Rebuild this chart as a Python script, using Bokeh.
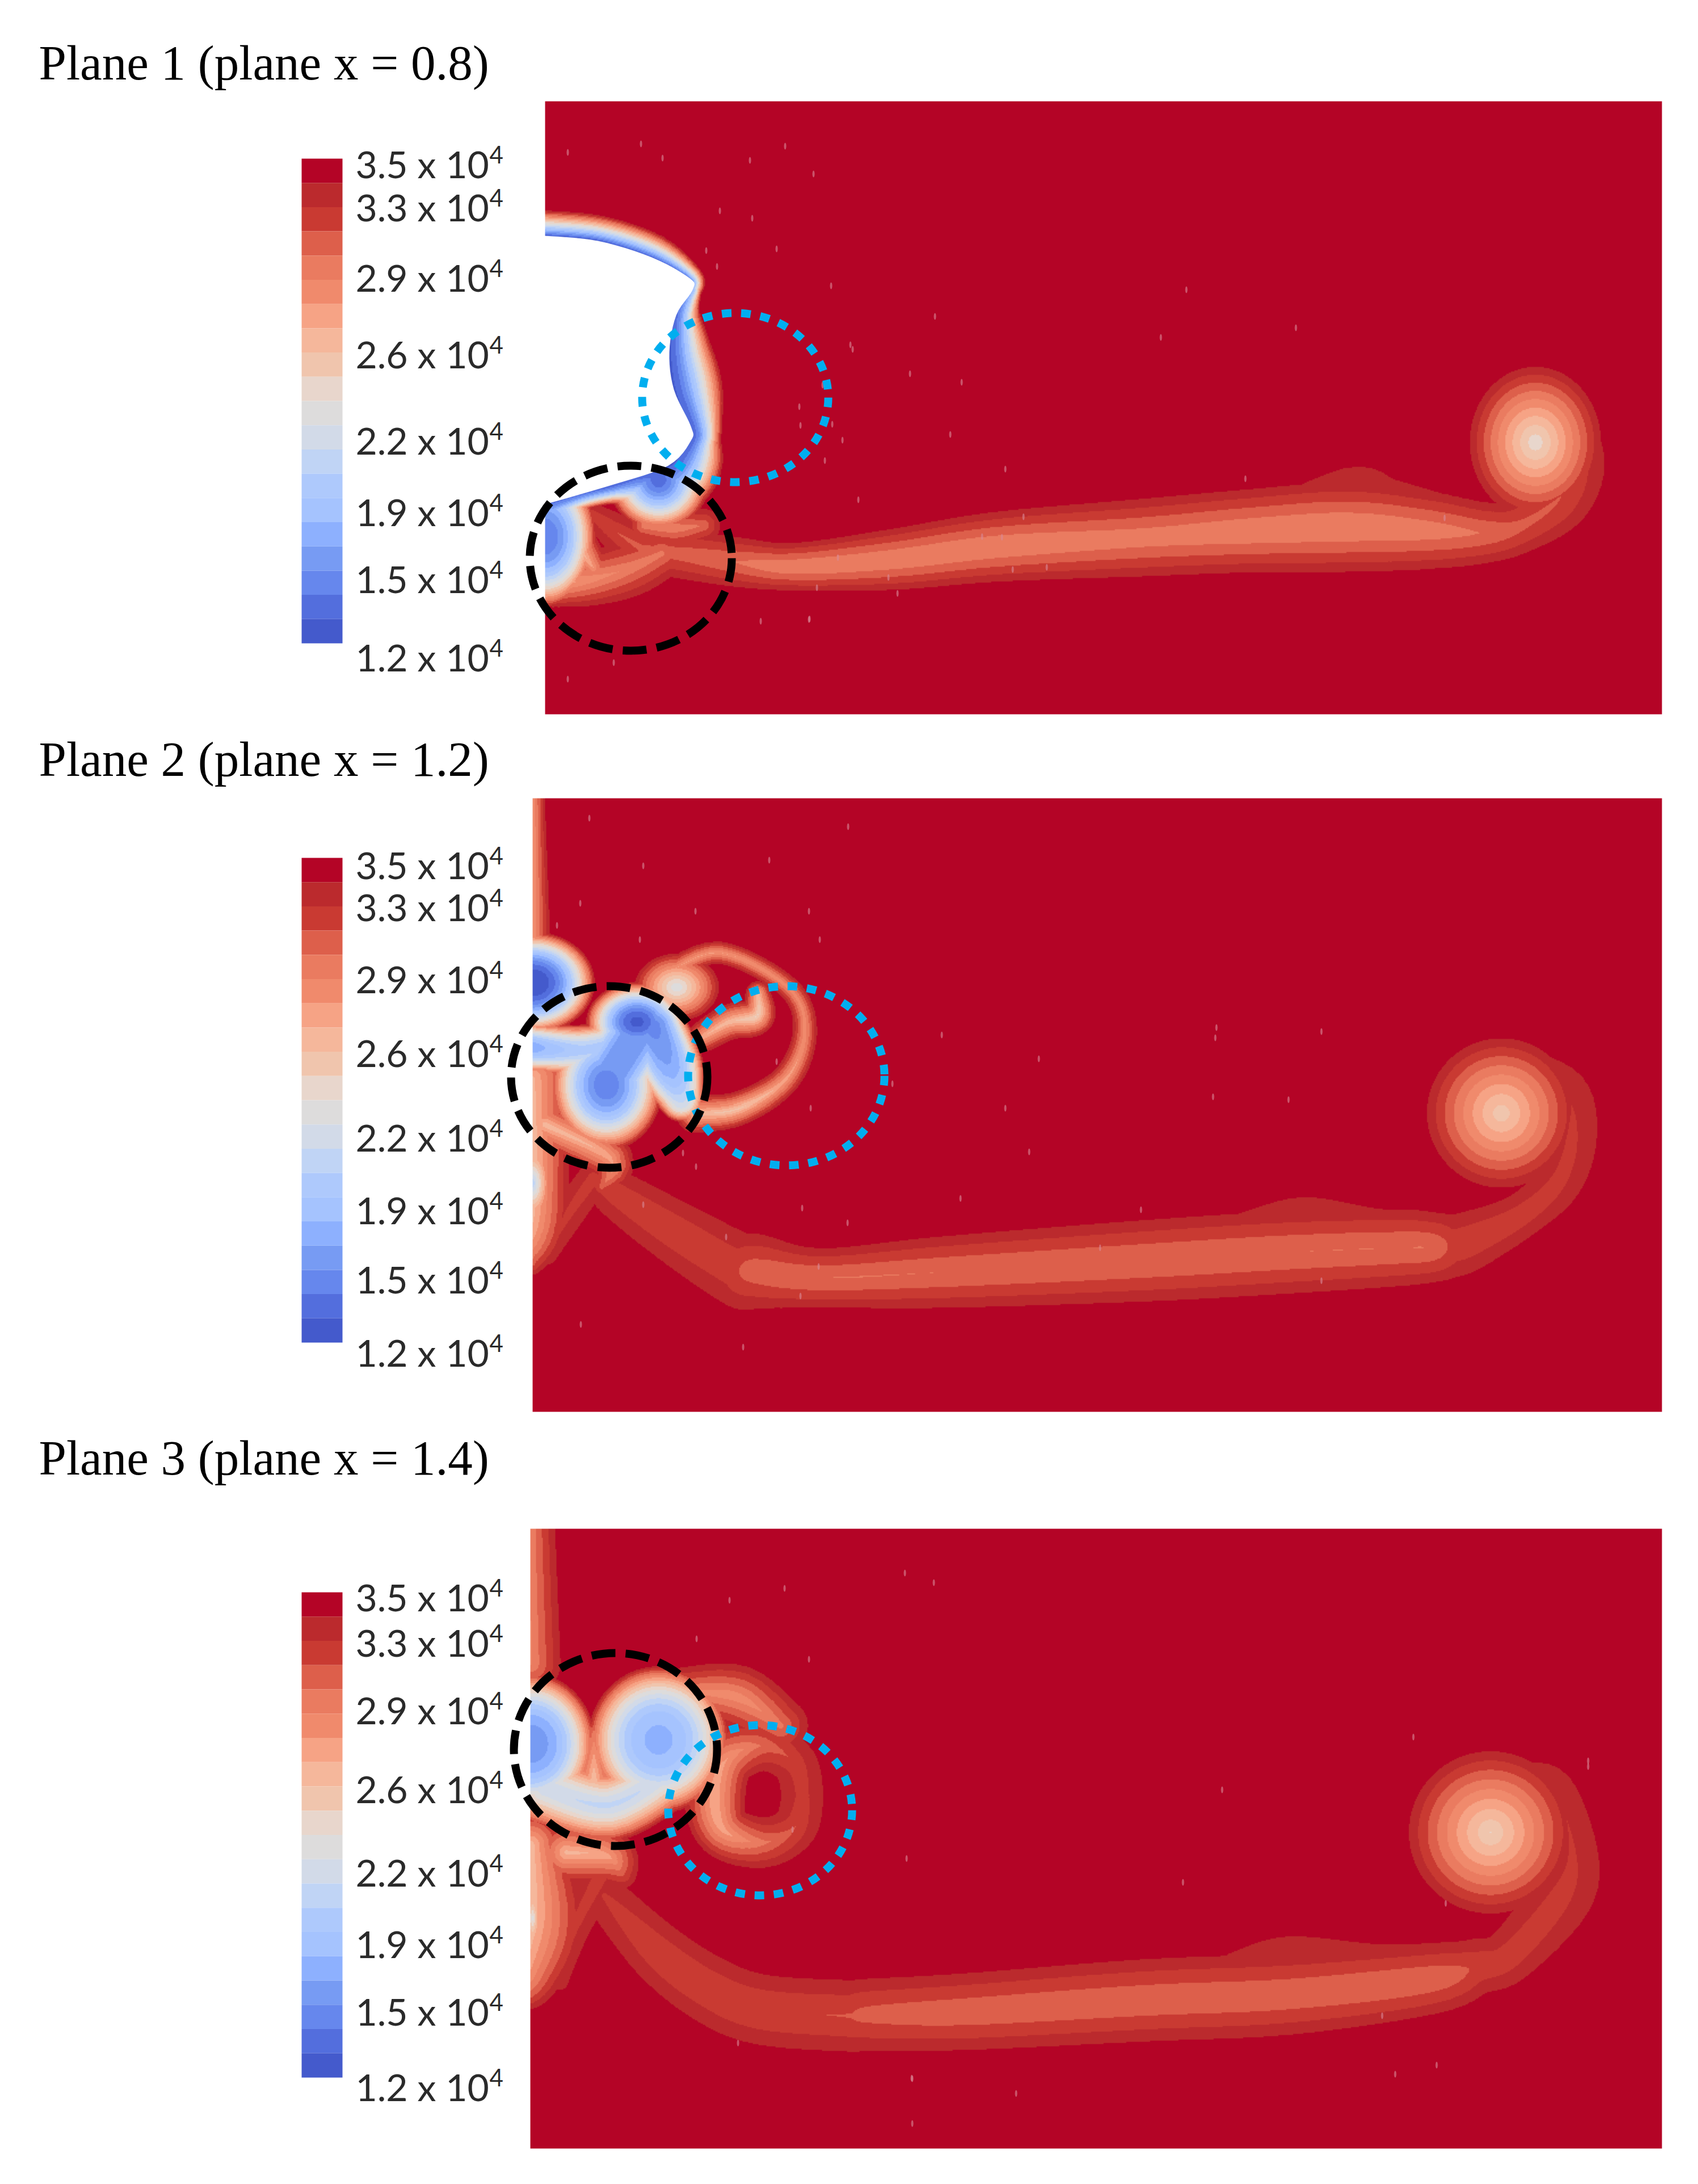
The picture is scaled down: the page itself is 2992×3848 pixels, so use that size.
import numpy as np

from bokeh.core.properties import value
from bokeh.embed import file_html
from bokeh.models import LinearColorMapper, Range1d
from bokeh.plotting import figure
from bokeh.resources import INLINE

#- colour levels of the bar, top to bottom
bar_colors = ["#b40426", "#bb2a2d", "#c93a32", "#dd5f4b", "#ea7b60", "#f08a6c", "#f6a385",
              "#f5b79b", "#f0c5ad", "#e8d6cc", "#dddcdc", "#d2dae8", "#c0d4f5", "#aec9fc",
              "#a5c3fe", "#8db0fe", "#779bf3", "#6687ed", "#536edd", "#445acc"]
bar_labels = ["3.5", "3.3", "2.9", "2.6", "2.2", "1.9", "1.5", "1.2"]

titles = ["Plane 1 (plane x = 0.8)", "Plane 2 (plane x = 1.2)", "Plane 3 (plane x = 1.4)"]
title_y = [110, 1337, 2568]

#- panel boxes: left, top, right, bottom
boxes = [(960, 178, 2928, 1258), (938, 1406, 2928, 2487), (934, 2693, 2928, 3785)]
bar_tops = [279, 1511, 2805]
bar_bottoms = [1133, 2365, 3660]
p1_label_y = [288, 364, 488, 623, 775, 901, 1019, 1157]
p2_label_y = [1523, 1597, 1724, 1854, 2003, 2131, 2253, 2382]
p3_label_y = [2813, 2893, 3012, 3151, 3298, 3424, 3543, 3676]

#- marked circles: centre x, centre y, half width, half height
black_circles = [(1111, 983, 178, 163), (1073, 1897, 173, 160), (1084, 3082, 179, 170)]
blue_circles = [(1295, 700, 164, 149), (1385, 1895, 173, 158), (1339, 3189, 162, 150)]

#- field features: ridge nodes are (x, y, half width, centre value)
p1_wake = [(1139, 971, 40, 31000), (1196, 975, 45, 31000),
           (1300, 990, 45, 30300), (1400, 998, 43, 29400), (1575, 985, 55, 29300), (1755, 963, 63, 29300),
           (2009, 947, 70, 29700), (2200, 935, 75, 29400), (2375, 928, 81, 29300), (2517, 934, 70, 29700),
           (2618, 938, 55, 30500), (2680, 925, 50, 31200), (2745, 880, 58, 31500), (2775, 820, 55, 32000),
           (2770, 760, 40, 32500), (2730, 700, 15, 33000)]
p1_finger = [(1043, 906, 22, 32000), (1090, 940, 35, 31500), (1139, 971, 40, 31000)]
p1_hump = [(2200, 915, 20, 33300), (2375, 865, 48, 33000), (2450, 878, 42, 33200), (2560, 900, 30, 33300),
           (2610, 905, 15, 33500)]
p1_top_layer = [(960, 415, 45, 13000), (1053, 424, 45, 13000), (1148, 453, 42, 13500), (1215, 490, 24, 15000),
                (1220, 510, 16, 18000)]
p1_side_layer = [(1220, 510, 16, 18000), (1191, 555, 42, 14000), (1179, 620, 74, 13000), (1187, 686, 86, 13000),
                 (1217, 751, 55, 13500), (1217, 776, 52, 13500), (1177, 820, 90, 13000), (1120, 838, 60, 13500),
                 (1081, 853, 35, 13500), (1020, 870, 30, 14000), (967, 886, 45, 14000)]
p1_lower = [(965, 1030, 40, 27000), (1040, 1020, 48, 28500), (1110, 1000, 52, 29500), (1165, 975, 45, 30000)]
p1_shelf = [(1135, 925, 30, 29500), (1190, 930, 38, 29500), (1240, 925, 30, 30500)]
p1_left_shelf = [(1005, 900, 22, 27000), (1020, 960, 34, 26000), (1045, 1000, 28, 28000)]
p1_spots = [(2705, 779, 117, 135, 23800, 1.1), (960, 945, 90, 125, 14500, 2.2), (1160, 845, 90, 90, 13500, 1.7)]
p1_white_x = [950, 960, 1053, 1148, 1215, 1220, 1191, 1179, 1187, 1217, 1217, 1177, 1081, 967, 950]
p1_white_y = [415, 415, 424, 453, 490, 510, 555, 620, 686, 751, 776, 820, 853, 886, 890]

p2_wake = [(1060, 2082, 30, 32200), (1090, 2105, 45, 32000), (1190, 2170, 58, 31800), (1300, 2235, 68, 31800),
           (1330, 2238, 68, 30800), (1445, 2250, 54, 30400), (1660, 2240, 65, 30400), (2016, 2220, 74, 30400),
           (2270, 2205, 75, 30400), (2461, 2197, 70, 30400), (2520, 2196, 64, 30500), (2550, 2194, 60, 31700),
           (2588, 2185, 55, 31800), (2680, 2140, 42, 32000), (2745, 2080, 45, 32300), (2770, 2000, 47, 32500),
           (2760, 1920, 40, 32800), (2690, 1860, 15, 33000)]
p2_hump = [(2194, 2145, 15, 33300), (2296, 2135, 32, 33000), (2420, 2145, 22, 33200), (2530, 2145, 10, 33600)]
p2_wall_top = [(938, 1406, 22, 28000), (938, 1660, 32, 28000)]
p2_wall_low = [(938, 1900, 70, 26500), (938, 2050, 65, 26000), (938, 2160, 60, 27000), (938, 2225, 20, 31000)]
p2_skirt = [(960, 1980, 40, 26000), (1075, 2040, 40, 27500), (1060, 2090, 20, 31000)]
p2_arm = [(1045, 2075, 30, 32000), (1000, 2140, 30, 32300), (965, 2210, 18, 32800)]
p2_bridge = [(938, 1845, 45, 17000), (1020, 1850, 45, 19500), (1085, 1840, 45, 19000)]
p2_lobe = [(1150, 1810, 60, 15000), (1180, 1880, 60, 17000), (1200, 1935, 40, 21000)]
p2_link = [(1122, 1820, 75, 15500), (1068, 1905, 75, 15500)]
p2_spiral = [(1225, 1961, 34, 26000), (1301, 1952, 30, 25500), (1385, 1900, 26, 27500), (1418, 1815, 22, 28500),
             (1388, 1739, 20, 28500), (1268, 1678, 20, 28000), (1171, 1716, 22, 28000)]
p2_tongue = [(1240, 1825, 28, 27000), (1285, 1800, 32, 26000), (1333, 1790, 32, 24500), (1335, 1750, 22, 26000)]
p2_spots = [(2645, 1960, 133, 133, 25000, 1.1), (938, 1731, 110, 90, 12000, 2.2), (1122, 1800, 90, 70, 12800, 2.0),
            (1068, 1911, 100, 115, 14500, 2.0), (1192, 1739, 75, 60, 22500, 1.2), (938, 2083, 40, 90, 20000, 1.0)]

p3_wake = [(1065, 3340, 40, 32600), (1160, 3440, 55, 31800), (1250, 3505, 62, 31700), (1340, 3540, 65, 31600),
           (1489, 3551, 66, 31500), (1534, 3549, 66, 31100), (1700, 3544, 70, 30700), (2016, 3524, 75, 30600),
           (2270, 3513, 74, 30600), (2518, 3487, 64, 30600), (2600, 3465, 52, 31700), (2660, 3445, 50, 32000),
           (2750, 3340, 60, 32300), (2770, 3260, 48, 32600), (2740, 3150, 35, 32800), (2690, 3120, 18, 33000)]
p3_hump = [(2169, 3450, 12, 33300), (2270, 3430, 22, 33000), (2435, 3440, 18, 33200), (2580, 3432, 16, 33300)]
p3_wall_top = [(934, 2693, 45, 29500), (934, 2930, 55, 29000)]
p3_wall_low = [(934, 3250, 60, 26000), (934, 3380, 96, 26000), (934, 3470, 60, 28000), (934, 3515, 25, 31000)]
p3_skirt = [(997, 3263, 55, 26500), (1070, 3270, 50, 27500), (1095, 3300, 28, 31000)]
p3_arm = [(1060, 3300, 35, 32000), (1010, 3400, 30, 32300), (985, 3490, 18, 32800)]
p3_floor = [(960, 3150, 70, 21500), (1073, 3180, 65, 21000), (1180, 3120, 65, 21500)]
p3_tongue = [(1046, 3050, 22, 30000), (1046, 3130, 38, 26000), (1046, 3150, 30, 25500)]
p3_ring = [(1414, 3163, 40, 32200), (1400, 3219, 42, 31500), (1344, 3246, 46, 30000), (1275, 3225, 50, 27500),
           (1259, 3163, 55, 27000), (1280, 3099, 52, 28000), (1344, 3075, 47, 30500), (1400, 3107, 42, 31800),
           (1414, 3163, 40, 32200)]
p3_crown = [(1210, 2980, 45, 29000), (1300, 2990, 58, 28500), (1375, 3040, 50, 30000)]
p3_spots = [(2626, 3228, 146, 145, 24600, 1.1), (934, 3072, 115, 125, 16000, 2.6), (1160, 3065, 125, 130, 17500, 2.6),
            (938, 3379, 22, 90, 22800, 1.0)]

#- small bright specks on the red
p1_speck_x = [1464, 2090, 1647, 2283, 2045, 1498, 1502, 1603, 1694, 1449, 1408, 1410, 1466, 1674, 1484, 1453, 1771,
              2194, 1512, 1803, 2545, 1730, 1765, 1476, 1784, 1844, 1565, 1439, 1581, 1425, 1000, 1129, 1321, 1383,
              1433, 1167, 1268, 1325, 1368, 1244, 1263, 1000, 1340, 1426, 1081, 1115]
p1_speck_y = [503, 510, 557, 577, 594, 607, 615, 658, 673, 678, 716, 749, 747, 765, 775, 811, 826,
              843, 880, 910, 912, 945, 946, 982, 1003, 999, 1017, 1035, 1045, 1091, 268, 253, 282, 257,
              306, 278, 371, 384, 438, 441, 469, 1196, 1094, 1090, 1167, 1147]
p2_speck_x = [1659, 2328, 2143, 2141, 1830, 1368, 1572, 2137, 2270, 1771, 1428, 1813, 1203, 1226, 1692, 2010, 1413,
              1493, 1279, 1938, 1133, 1442, 2328, 1410, 1023, 1309, 1038, 1494, 1355, 1133, 1022, 1225, 1425, 1444,
              1127, 981]
p2_speck_y = [1823, 1817, 1810, 1828, 1865, 1870, 1909, 1932, 1937, 1952, 1952, 2029, 2031, 2055, 2111, 2131, 2128,
              2154, 2179, 2198, 2122, 2231, 2256, 2283, 2333, 2373, 1441, 1456, 1515, 1525, 1591, 1605, 1605, 1655,
              1655, 1630]
p3_speck_x = [2490, 2798, 2798, 2153, 1597, 2084, 2547, 1396, 2435, 1300, 2531, 1607, 2458, 1790, 1607, 1594, 1645,
              1382, 1285, 1227, 1425, 1606]
p3_speck_y = [3060, 3102, 3112, 3153, 3274, 3316, 3353, 3223, 3551, 3599, 3638, 3662, 3654, 3688, 3741, 2771, 2788,
              2798, 2819, 2887, 2923, 3661]

GRID = 2  #- field cell size
LOW, HIGH, EDGE = 12000.0, 35000.0, 34000.0


def smooth(nodes, n=6):
    #- Catmull-Rom through the nodes, so the ridges have no corners
    pts = np.asarray(nodes, dtype=float)
    pad = np.vstack([pts[0], pts, pts[-1]])
    out = []
    for i in range(1, len(pad) - 2):
        p0, p1, p2, p3 = pad[i - 1], pad[i], pad[i + 1], pad[i + 2]
        for t in np.arange(n) / n:
            out.append(0.5 * (2 * p1 + (p2 - p0) * t + (2 * p0 - 5 * p1 + 4 * p2 - p3) * t ** 2
                              + (3 * p1 - p0 - 3 * p2 + p3) * t ** 3))
    out.append(pts[-1])
    return np.array(out)


def build_field(box, ridges, spots):
    x0, y0, x1, y1 = box
    X, Y = np.meshgrid(np.arange(x0 + GRID / 2, x1, GRID, dtype=np.float32),
                       np.arange(y0 + GRID / 2, y1, GRID, dtype=np.float32))
    img = np.full(X.shape, HIGH, dtype=np.float32)
    for nodes, power in ridges:
        dense = smooth(nodes)
        for a, b in zip(dense[:-1], dense[1:]):
            ax, ay, aw, av = a
            bx, by, bw, bv = b
            #- only the cells this segment can reach
            reach = max(aw, bw) + 2
            i0 = max(int((min(ay, by) - reach - y0) / GRID), 0)
            i1 = int((max(ay, by) + reach - y0) / GRID) + 1
            j0 = max(int((min(ax, bx) - reach - x0) / GRID), 0)
            j1 = int((max(ax, bx) + reach - x0) / GRID) + 1
            xs, ys = X[i0:i1, j0:j1], Y[i0:i1, j0:j1]
            dx, dy = bx - ax, by - ay
            t = np.clip(((xs - ax) * dx + (ys - ay) * dy) / (dx * dx + dy * dy), 0, 1)
            d = np.hypot(xs - ax - t * dx, ys - ay - t * dy)
            w = aw + t * (bw - aw)
            v = av + t * (bv - av)
            val = v + (EDGE - v) * (d / w) ** power
            img[i0:i1, j0:j1] = np.where((d < w) & (val < img[i0:i1, j0:j1]), val, img[i0:i1, j0:j1])
    for cx, cy, rx, ry, v, power in spots:
        r = np.hypot((X - cx) / rx, (Y - cy) / ry)
        val = v + (EDGE - v) * r ** power
        img = np.where((r < 1) & (val < img), val, img)
    return img


fields = [
    build_field(boxes[0], [(p1_wake, 1.25), (p1_finger, 1.0), (p1_hump, 1.0), (p1_top_layer, 1.0), (p1_side_layer, 1.5),
                           (p1_lower, 1.0), (p1_shelf, 1.0), (p1_left_shelf, 1.0)], p1_spots),
    build_field(boxes[1], [(p2_wake, 1.25), (p2_hump, 1.0), (p2_wall_top, 1.0), (p2_wall_low, 1.0), (p2_skirt, 1.0),
                           (p2_arm, 1.0), (p2_bridge, 2.0), (p2_lobe, 2.5), (p2_link, 2.5), (p2_spiral, 1.0),
                           (p2_tongue, 1.0)], p2_spots),
    build_field(boxes[2], [(p3_wake, 1.25), (p3_hump, 1.0), (p3_wall_top, 1.0), (p3_wall_low, 1.0), (p3_skirt, 1.0),
                           (p3_arm, 1.0), (p3_floor, 1.6), (p3_tongue, 1.0), (p3_ring, 1.0), (p3_crown, 1.0)], p3_spots),
]
label_ys = [p1_label_y, p2_label_y, p3_label_y]
specks = [(p1_speck_x, p1_speck_y), (p2_speck_x, p2_speck_y), (p3_speck_x, p3_speck_y)]
white_smooth = smooth(list(zip(p1_white_x, p1_white_y)))

p = figure(width=2976, height=3832, x_range=Range1d(0, 2976), y_range=Range1d(3832, 0),
           x_axis_type=None, y_axis_type=None, toolbar_location=None, output_backend="svg",
           min_border=0, outline_line_color=None, background_fill_color="white")
p.grid.visible = False

mapper = LinearColorMapper(palette=bar_colors[::-1], low=LOW, high=HIGH)

for i, box in enumerate(boxes):
    x0, y0, x1, y1 = box
    p.image(image=[fields[i]], x=x0, y=y0, dw=x1 - x0, dh=y1 - y0, color_mapper=mapper)
    p.ellipse(specks[i][0], specks[i][1], width=4, height=12, fill_color="#d98a98", line_color=None, fill_alpha=0.6)

    if i == 0:
        p.patch(white_smooth[:, 0], white_smooth[:, 1], fill_color="white", line_color=None)

    #- colour bar
    edges = np.linspace(bar_tops[i], bar_bottoms[i], len(bar_colors) + 1)
    p.quad(left=531, right=603, top=edges[:-1], bottom=edges[1:], fill_color=bar_colors, line_color=None)

    #- bar labels, exponent as a separate smaller text
    ys = label_ys[i]
    p.text([626] * len(ys), ys, text=[t + " x 10" for t in bar_labels], text_font=value("Lato"),
           text_font_size="66px", text_color="#2a2a2a", text_baseline="middle", text_align="left")
    p.text([862] * len(ys), [y - 16 for y in ys], text=["4"] * len(ys), text_font=value("Lato"),
           text_font_size="42px", text_color="#2a2a2a", text_baseline="middle", text_align="left")

    p.text([68], [title_y[i]], text=[titles[i]], text_font=value("Liberation Serif"), text_font_size="87px",
           text_color="black", text_baseline="middle", text_align="left")

    black = black_circles[i]
    blue = blue_circles[i]
    if i < 2:
        p.ellipse([blue[0]], [blue[1]], width=[2 * blue[2]], height=[2 * blue[3]], fill_color=None,
                  line_color="#00aeef", line_width=14, line_dash="17 17")
    p.ellipse([black[0]], [black[1]], width=[2 * black[2]], height=[2 * black[3]], fill_color=None,
              line_color="black", line_width=14, line_dash="42 18")
    if i == 2:
        p.ellipse([blue[0]], [blue[1]], width=[2 * blue[2]], height=[2 * blue[3]], fill_color=None,
                  line_color="#00aeef", line_width=14, line_dash="17 17")

open("out.html", "w").write(file_html(p, INLINE))
